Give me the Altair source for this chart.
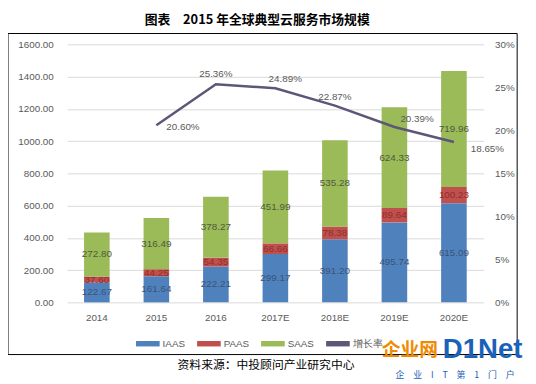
import altair as alt
import pandas as pd

years = ["2014", "2015", "2016", "2017E", "2018E", "2019E", "2020E"]
iaas = [122.67, 161.64, 222.21, 299.17, 391.20, 495.74, 615.09]
paas = [37.60, 44.25, 54.35, 66.66, 78.38, 89.64, 100.23]
saas = [272.80, 316.49, 378.27, 451.99, 535.28, 624.33, 719.96]
growth_years = ["2015", "2016", "2017E", "2018E", "2019E", "2020E"]
growth = [20.60, 25.36, 24.89, 22.87, 20.39, 18.65]
series = ["IAAS", "PAAS", "SAAS"]
legend_names = ["IAAS", "PAAS", "SAAS", "增长率"]
left_ticks = [0, 200, 400, 600, 800, 1000, 1200, 1400, 1600]
right_ticks = [0, 0.05, 0.10, 0.15, 0.20, 0.25, 0.30]
title_text = ["图表　2015 年全球典型云服务市场规模"]
source_text = ["资料来源：中投顾问产业研究中心"]
logo_cn = ["企业网"]
logo_en = ["D1Net"]
logo_sub = ["企　业　I　T　第　1　门　户"]

colors = ["#4f81bd", "#c0504d", "#9bbb59", "#5d5679"]
label_colors = {"IAAS": "#3c5478", "PAAS": "#8e2f2c", "SAAS": "#4f5a3c"}
FONT = "Liberation Sans"
GRAY = "#595959"

rows = []
for i, yr in enumerate(years):
    base = 0.0
    for j, (s, vals) in enumerate(zip(series, [iaas, paas, saas])):
        v = vals[i]
        rows.append(dict(year=yr, series=s, value=v, order=j, mid=base + v / 2, label=f"{v:.2f}"))
        base += v
bars_df = pd.DataFrame(rows)
growth_df = pd.DataFrame(dict(
    year=growth_years,
    rate=[g / 100 for g in growth],
    label=[f"{g:.2f}%" for g in growth],
    series=["增长率"] * len(growth),
))

xscale = alt.Scale(domain=years, paddingInner=0.57, paddingOuter=0.285)
xaxis = alt.Axis(title=None, labelAngle=0, ticks=False, domain=False,
                 labelPadding=10, labelColor=GRAY, labelFontSize=10, labelFont=FONT)
laxis = alt.Axis(values=left_ticks, format=".2f", title=None, grid=True,
                 gridColor="#d9d9d9", ticks=False, domain=False, labelPadding=14,
                 labelOverlap=False, labelColor=GRAY, labelFontSize=10, labelFont=FONT)
raxis = alt.Axis(orient="right", format=".0%", values=right_ticks, title=None, grid=False,
                 ticks=False, domain=False, labelPadding=11, labelOverlap=False,
                 labelColor=GRAY, labelFontSize=10, labelFont=FONT)
color_scale = alt.Scale(domain=legend_names, range=colors)
sym = "M-1,-0.23L1,-0.23L1,0.23L-1,0.23Z"
legend = alt.Legend(title=None, orient="none", legendX=70, legendY=292, direction="horizontal",
                    symbolType=sym, symbolSize=576, labelFontSize=10, labelColor=GRAY,
                    labelFont=FONT, labelOffset=3, columnPadding=12, symbolStrokeWidth=0)


def X():
    return alt.X("year:N", sort=years, scale=xscale, axis=xaxis)


yleft = alt.Scale(domain=[0, 1600])
bars = alt.Chart(bars_df).mark_bar().encode(
    x=X(),
    y=alt.Y("value:Q", stack="zero", scale=yleft, axis=laxis),
    color=alt.Color("series:N", scale=color_scale, legend=legend),
    order=alt.Order("order:Q", sort="ascending"),
)
bar_labels = [
    alt.Chart(bars_df).transform_filter(alt.datum.series == s).mark_text(
        fontSize=10, font=FONT, color=label_colors[s]
    ).encode(x=X(), y=alt.Y("mid:Q", scale=yleft, axis=laxis), text="label:N")
    for s in series
]
left = alt.layer(bars, *bar_labels)

yright = alt.Scale(domain=[0, 0.30])
line = alt.Chart(growth_df).mark_line(strokeWidth=2.5).encode(
    x=X(),
    y=alt.Y("rate:Q", scale=yright, axis=raxis),
    color=alt.Color("series:N", scale=color_scale, legend=legend),
)
offsets = {"2015": (27, 2), "2016": (0, -10), "2017E": (10, -9), "2018E": (0, -9),
           "2019E": (23, -8), "2020E": (34, 7)}
line_labels = [
    alt.Chart(growth_df).transform_filter(alt.datum.year == yr).mark_text(
        fontSize=10, font=FONT, color=GRAY, dx=dx, dy=dy
    ).encode(x=X(), y=alt.Y("rate:Q", scale=yright, axis=raxis), text="label:N")
    for yr, (dx, dy) in offsets.items()
]
right = alt.layer(line, *line_labels)

one = pd.DataFrame({"k": [0]})
border = alt.Chart(one).mark_rect(fillOpacity=0, stroke="black", strokeWidth=1).encode(
    x=alt.value(-60), x2=alt.value(457), y=alt.value(-11), y2=alt.value(315))
title = alt.Chart(pd.DataFrame({"t": title_text})).mark_text(
    font="Noto Sans CJK SC", fontWeight="bold", fontSize=13, color="black", baseline="middle"
).encode(x=alt.value(193), y=alt.value(-25), text="t:N")
source = alt.Chart(pd.DataFrame({"t": source_text})).mark_text(
    font="Noto Sans CJK SC", fontSize=12, color="black", baseline="middle"
).encode(x=alt.value(202), y=alt.value(326), text="t:N")
logo1 = alt.Chart(pd.DataFrame({"t": logo_cn})).mark_text(
    font="Noto Sans CJK SC", fontWeight="bold", fontSize=19, color="#f08a00", baseline="middle"
).encode(x=alt.value(348), y=alt.value(310), text="t:N")
logo2 = alt.Chart(pd.DataFrame({"t": logo_en})).mark_text(
    font="Liberation Sans", fontWeight="bold", fontSize=28, color="#1a62b8", baseline="middle"
).encode(x=alt.value(422), y=alt.value(310), text="t:N")
logo3 = alt.Chart(pd.DataFrame({"t": logo_sub})).mark_text(
    font="Noto Sans CJK SC", fontSize=9, color="#1a62b8", baseline="middle"
).encode(x=alt.value(394), y=alt.value(336), text="t:N")

chart = alt.layer(left, right, border, title, source, logo1, logo2, logo3).resolve_scale(
    y="independent"
).properties(
    width=423, height=262,
    padding={"left": 60, "top": 34, "right": 45, "bottom": 80},
    autosize=alt.AutoSizeParams(type="none"),
    background="white",
).configure_view(stroke=None)

chart.save("out.html", embed_options={"renderer": "svg", "actions": False})
